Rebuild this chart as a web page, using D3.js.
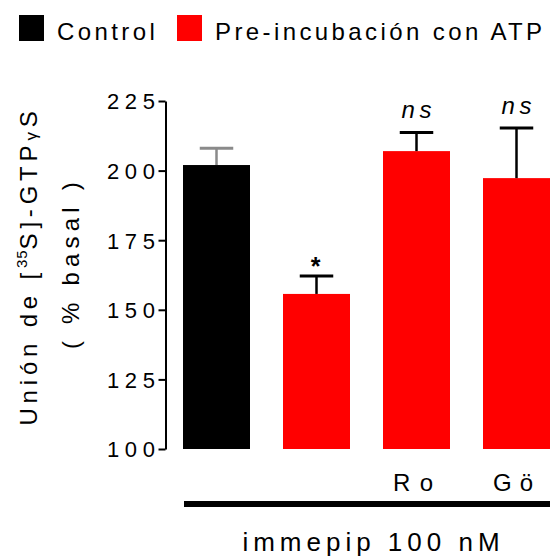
<!DOCTYPE html>
<html>
<head>
<meta charset="utf-8">
<script src="https://cdn.jsdelivr.net/npm/d3@7"></script>
<style>
  html, body { margin: 0; padding: 0; background: #fff; }
  svg text { font-family: "Liberation Sans", Arial, sans-serif; fill: #000; }
</style>
</head>
<body>
<svg id="chart" width="551" height="557"></svg>
<script>
// Data
const groups = ["control", "atp", "ro", "go"];
const means = [202, 155.7, 207, 197.3];
const errUpper = [208, 162.1, 213.7, 215.3];
const barColors = ["#000000", "#ff0000", "#ff0000", "#ff0000"];
const errColors = ["#8a8a8a", "#000000", "#000000", "#000000"];
const groupLabels = ["", "", "Ro", "Gö"];
const significance = ["", "*", "ns", "ns"];
const yTicks = [100, 125, 150, 175, 200, 225];
const legendItems = ["Control", "Pre-incubación con ATP"];
const legendColors = ["#000000", "#ff0000"];

const svg = d3.select("#chart");

const y = d3.scaleLinear().domain([100, 225]).range([449, 101]);
const x = d3.scaleBand().domain(groups).range([166.5, 566.5])
  .paddingInner(0.33).paddingOuter(0.165);

// Y axis
const axisX = 165.5;
const tickLs = 5.7;
const yAxis = d3.axisLeft(y).tickValues(yTicks).tickSize(7).tickSizeOuter(0);
const gy = svg.append("g").attr("transform", `translate(${axisX},0)`).call(yAxis);
gy.select(".domain").attr("stroke", "#000").attr("stroke-width", 2);
gy.selectAll(".tick line").attr("stroke", "#000").attr("stroke-width", 2);
gy.selectAll(".tick text")
  .attr("font-size", 22)
  .attr("font-family", "Liberation Sans, Arial, sans-serif")
  .style("letter-spacing", tickLs + "px")
  .attr("x", -10.5 + tickLs)
  .attr("dy", "0.36em")
  .attr("fill", "#000");

// Y axis title
const title = svg.append("text")
  .attr("transform", "translate(37,266) rotate(-90)")
  .attr("text-anchor", "middle")
  .attr("font-size", 24)
  .style("letter-spacing", "4.8px");
title.append("tspan").text("Unión de [");
title.append("tspan").attr("font-size", 15).attr("dy", -10).style("letter-spacing", "1px").text("35");
title.append("tspan").attr("dy", 10).text("S]-GTP");
title.append("tspan").attr("font-size", 17).text("γ");
title.append("tspan").text("S");

svg.append("text")
  .attr("transform", "translate(79,263) rotate(-90)")
  .attr("text-anchor", "middle")
  .attr("font-size", 24)
  .style("letter-spacing", "5.2px")
  .text("( % basal )");

// Bars
svg.append("g").selectAll("rect")
  .data(groups)
  .join("rect")
  .attr("x", d => x(d))
  .attr("width", x.bandwidth())
  .attr("y", (d, i) => y(means[i]))
  .attr("height", (d, i) => y(100) - y(means[i]))
  .attr("fill", (d, i) => barColors[i]);

// Error bars (upper only)
const capW = x.bandwidth() / 2;
const eb = svg.append("g").selectAll("g").data(groups).join("g");
eb.append("line")
  .attr("x1", d => x(d) + x.bandwidth() / 2)
  .attr("x2", d => x(d) + x.bandwidth() / 2)
  .attr("y1", (d, i) => y(means[i]))
  .attr("y2", (d, i) => y(errUpper[i]))
  .attr("stroke", (d, i) => errColors[i])
  .attr("stroke-width", 2.5);
eb.append("line")
  .attr("x1", d => x(d) + x.bandwidth() / 2 - capW / 2)
  .attr("x2", d => x(d) + x.bandwidth() / 2 + capW / 2)
  .attr("y1", (d, i) => y(errUpper[i]))
  .attr("y2", (d, i) => y(errUpper[i]))
  .attr("stroke", (d, i) => errColors[i])
  .attr("stroke-width", 3);

// Significance marks
const sig = svg.append("g").selectAll("text")
  .data(groups)
  .join("text")
  .attr("text-anchor", "middle")
  .text((d, i) => significance[i]);
sig.filter((d, i) => significance[i] === "ns")
  .attr("x", d => x(d) + x.bandwidth() / 2 + 2.4)
  .attr("y", d => y(errUpper[groups.indexOf(d)]) - 14)
  .attr("font-size", 24)
  .attr("font-style", "italic")
  .style("letter-spacing", "4.7px");
sig.filter((d, i) => significance[i] === "*")
  .attr("x", d => x(d) + x.bandwidth() / 2 - 1)
  .attr("y", d => y(errUpper[groups.indexOf(d)]) - 1.5)
  .attr("font-size", 25)
  .attr("font-weight", "bold");

// Group labels
const groupLs = [0, 0, 9.3, 8];
svg.append("g").selectAll("text")
  .data(groups)
  .join("text")
  .attr("x", (d, i) => x(d) + x.bandwidth() / 2 - 3.5 + groupLs[i] / 2)
  .attr("y", 491)
  .attr("text-anchor", "middle")
  .attr("font-size", 24)
  .style("letter-spacing", (d, i) => groupLs[i] + "px")
  .text((d, i) => groupLabels[i]);

// Treatment bracket
const lineStart = x(groups[0]) + 1;
const lineEnd = x(groups[groups.length - 1]) + x.bandwidth();
svg.append("line")
  .attr("x1", lineStart).attr("x2", lineEnd)
  .attr("y1", 504).attr("y2", 504)
  .attr("stroke", "#000").attr("stroke-width", 6);

svg.append("text")
  .attr("x", (lineStart + lineEnd) / 2 + 4 + 2.5)
  .attr("y", 551)
  .attr("text-anchor", "middle")
  .attr("font-size", 26)
  .style("letter-spacing", "5px")
  .text("immepip 100 nM");

// Legend
const legendX = [19, 177];
const lg = svg.append("g").selectAll("g").data(legendItems).join("g")
  .attr("transform", (d, i) => `translate(${legendX[i]},15)`);
lg.append("rect").attr("width", 25).attr("height", 26)
  .attr("fill", (d, i) => legendColors[i]);
lg.append("text").attr("x", 38).attr("y", 24.5)
  .attr("font-size", 24)
  .style("letter-spacing", "3.4px")
  .text(d => d);
</script>
</body>
</html>
